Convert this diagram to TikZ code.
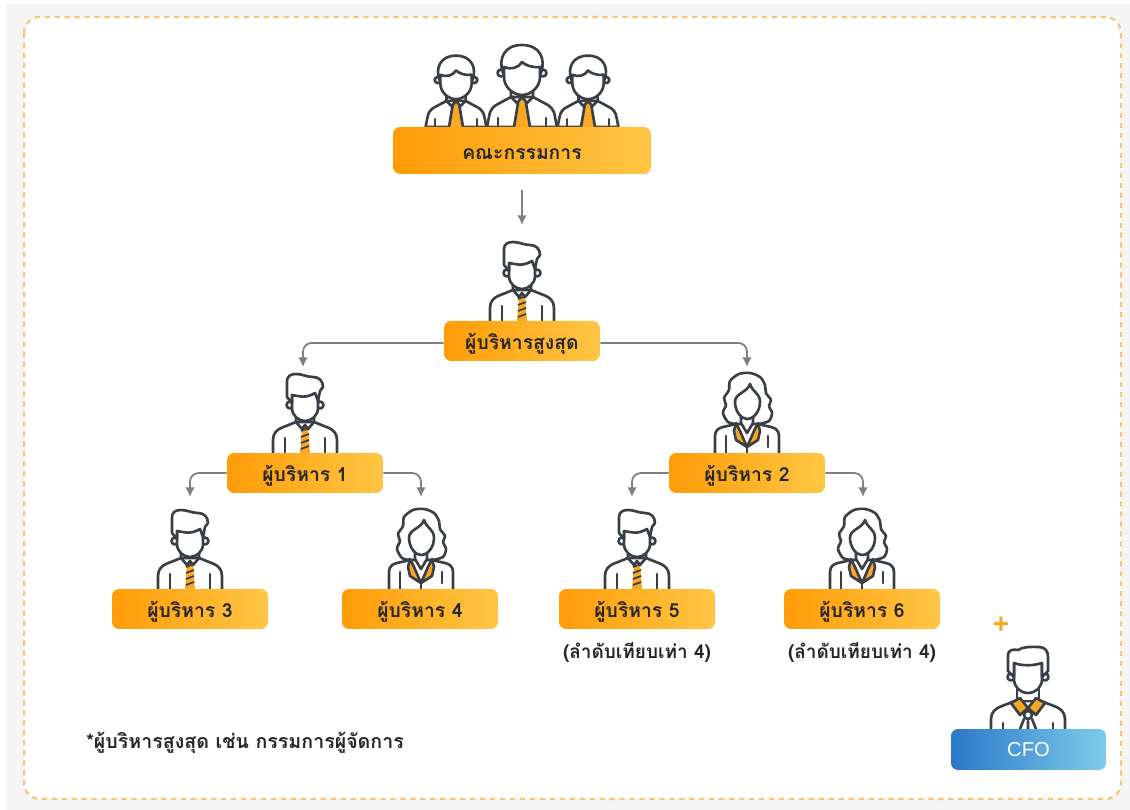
\documentclass[tikz,border=0pt]{standalone}
\usepackage{xcolor}
\usepackage{fontspec}
\usepackage{tikz}
\usetikzlibrary{arrows.meta}
\setmainfont[Script=Thai]{Loma}
\newfontfamily\latinfont{Liberation Sans}
\definecolor{iconcol}{HTML}{3A3F45}
\definecolor{tiecol}{HTML}{F9A825}
\definecolor{framecol}{HTML}{F8C678}
\definecolor{arrowcol}{HTML}{7C8085}
\definecolor{pagecol}{HTML}{F5F5F5}
\definecolor{orangeleft}{HTML}{FF9C08}
\definecolor{orangeright}{HTML}{FFC644}
\definecolor{blueleft}{HTML}{2A78C9}
\definecolor{blueright}{HTML}{7ECCE9}

\begin{document}
\begin{tikzpicture}[x=0.02cm,y=-0.02cm]
			\tikzstyle{orangebox} = [rounded corners=4pt, left color=orangeleft, right color=orangeright, minimum width=3.12cm, minimum height=0.8cm, inner sep=0pt, text height=10pt, text depth=0pt, text=black!85, font=\fontsize{11}{12}\selectfont\bfseries]
			\tikzstyle{bluebox} = [rounded corners=4pt, left color=blueleft, right color=blueright, minimum width=3.1cm, minimum height=0.82cm, inner sep=0pt, text=white, font=\fontsize{11.5}{12}\selectfont\latinfont]
			\tikzstyle{plain} = [font=\fontsize{10.8}{12}\selectfont\bfseries, text=black!85, inner sep=0pt]
			\tikzstyle{iconline} = [draw=iconcol, line width=1.5pt, line cap=round, line join=round, fill=white]
			\tikzstyle{stroke} = [draw=iconcol, line width=1.5pt, line cap=round, line join=round]
			\tikzset{edge/.style = {draw=arrowcol, line width=1pt, rounded corners=5pt, -{Latex[length=5.5pt,width=5.5pt]}}}
			\tikzset{
				manicon/.pic = {
					\draw[iconline] (-32,0) -- (-32,-13) .. controls (-32,-20) and (-28,-23) .. (-24,-25) -- (-9,-31) -- (9,-31) -- (24,-25) .. controls (28,-23) and (32,-20) .. (32,-13) -- (32,0);
					\draw[stroke] (-20,0) -- (-20,-15) (20,0) -- (20,-15);
					\fill[tiecol] (-3,-26) -- (3,-26) -- (5,0) -- (-5,0) -- cycle;
					\foreach \y in {-22,-16,-10,-4}
						\draw[iconcol, line width=1pt] (-4,\y) -- (4,\y-3);
					\draw[stroke] (-9,-38) -- (-9,-31) -- (-3,-24) -- (0,-28) -- (3,-24) -- (9,-31) -- (9,-38);
					\draw[iconline] (-15,-48) circle (3.5) (15,-48) circle (3.5);
					\draw[iconline] (-13,-56) -- (-13,-45) .. controls (-13,-37) and (-6,-32) .. (0,-32) .. controls (6,-32) and (13,-37) .. (13,-45) -- (13,-56);
					\draw[iconline] (-13,-50) -- (-18,-56) -- (-18,-72) .. controls (-18,-77) and (-14,-79) .. (-9,-79) .. controls (-3,-79) and (2,-76) .. (8,-76) .. controls (14,-76) and (18,-72) .. (18,-66) -- (15,-62) -- (13,-52) -- (10,-60) .. controls (0,-54) and (-6,-57) .. (-13,-58) -- cycle;
				},
				womanicon/.pic = {
					\draw[iconline] plot[smooth] coordinates {(-11,-29) (-19,-31) (-24,-40) (-21,-48) (-23,-55) (-18,-63) (-17,-72) (-8,-79) (3,-80) (13,-76) (18,-68) (19,-60) (24,-53) (22,-47) (25,-40) (22,-32) (12,-29)};
					\draw[iconline] (-32,0) -- (-32,-17) .. controls (-32,-23) and (-28,-25) .. (-24,-26) -- (-11,-29) -- (11,-29) -- (24,-26) .. controls (28,-25) and (32,-23) .. (32,-17) -- (32,0);
					\draw[stroke] (-21,0) -- (-21,-17) (21,-6) -- (21,-17);
					\draw[stroke, fill=tiecol] (-11,-30) -- (-7,-22) -- (0,-6) -- (-11,-13) -- (-13,-22) -- cycle;
					\draw[stroke, fill=tiecol] (11,-30) -- (7,-22) -- (0,-6) -- (11,-13) -- (13,-22) -- cycle;
					\draw[stroke] (0,-6) -- (0,0);
					\draw[iconline] (-6,-40) -- (-6,-30) -- (0,-20) -- (6,-30) -- (6,-40);
					\draw[iconline] (3,-69) .. controls (0,-60) and (-12,-60) .. (-12,-51) .. controls (-12,-42) and (-6,-34) .. (0,-34) .. controls (7,-34) and (13,-42) .. (13,-51) .. controls (13,-60) and (6,-60) .. (3,-69) -- cycle;
				},
				boardicon/.pic = {
					\draw[iconline] (-35,0) -- (-33,-10) .. controls (-32,-18) and (-28,-21) .. (-24,-23) -- (-11,-30) -- (11,-30) -- (24,-23) .. controls (28,-21) and (32,-18) .. (33,-10) -- (35,0) -- cycle;
					\draw[stroke] (-24,0) -- (-24,-9) (24,0) -- (24,-9);
					\fill[tiecol] (-3,-29) -- (3,-29) -- (7,0) -- (-7,0) -- cycle;
					\draw[stroke] (-8,0) -- (-4,-24) (8,0) -- (4,-24);
					\draw[stroke] (-11,-36) -- (-11,-30) -- (-5,-24) -- (0,-30) -- (5,-24) -- (11,-30) -- (11,-36);
					\draw[iconline] (-21,-54) circle (3.5) (21,-54) circle (3.5);
					\draw[iconline] (-18,-66) -- (-18,-50) .. controls (-18,-40) and (-9,-32) .. (0,-32) .. controls (9,-32) and (18,-40) .. (18,-50) -- (18,-66);
					\draw[iconline] (-19,-54) .. controls (-24,-68) and (-18,-82) .. (0,-82) .. controls (18,-82) and (24,-68) .. (19,-54) -- (18,-60) .. controls (10,-59) and (3,-62) .. (0,-65) .. controls (-3,-59) and (-12,-57) .. (-18,-60) -- cycle;
				},
				cfoicon/.pic = {
					\draw[iconline] (-37,0) -- (-37,-10) .. controls (-37,-17) and (-32,-21) .. (-26,-23) -- (-13,-28) -- (13,-28) -- (26,-23) .. controls (32,-21) and (37,-17) .. (37,-10) -- (37,0);
					\draw[stroke] (-25,0) -- (-25,-6) (25,0) -- (25,-6);
					\draw[stroke] (-4,-10) -- (-8,0) (4,-10) -- (8,0) (0,-8) -- (0,0);
					\draw[iconline] (-11,-40) -- (-11,-28) -- (11,-28) -- (11,-40);
					\draw[stroke, fill=tiecol] (-17,-26) -- (-8,-31) -- (0,-21) -- (-8,-14) -- cycle;
					\draw[stroke, fill=tiecol] (17,-26) -- (8,-31) -- (0,-21) -- (8,-14) -- cycle;
					\draw[iconline] (0,-14) circle (4);
					\draw[iconline] (-17,-52) circle (3.5) (17,-52) circle (3.5);
					\draw[iconline] (-14,-66) -- (-14,-50) .. controls (-14,-42) and (-8,-36) .. (0,-36) .. controls (8,-36) and (14,-42) .. (14,-50) -- (14,-66);
					\draw[iconline] (-14,-52) -- (-20,-58) -- (-20,-74) .. controls (-20,-79) and (-15,-80) .. (-10,-79) .. controls (-3,-83) and (4,-82) .. (11,-82) .. controls (17,-82) and (20,-78) .. (20,-72) -- (20,-58) -- (14,-52) -- (14,-66) .. controls (5,-63) and (-6,-63) .. (-14,-66) -- cycle;
				}
			}

			\fill[pagecol] (6,4) rectangle (1130,810);
			\draw[framecol, fill=white, line width=1.3pt, dash pattern=on 3pt off 2.67pt, rounded corners=9pt] (24,17) rectangle (1121,799);

			% connector ends
			\coordinate (ceotop) at (522,225);
			\coordinate (onetop) at (303,367);
			\coordinate (twotop) at (747,367);
			\coordinate (threetop) at (190,497);
			\coordinate (fourtop) at (421,497);
			\coordinate (fivetop) at (632,497);
			\coordinate (sixtop) at (863,497);

			% people, behind the boxes
			\pic[scale=.87] at (456,127) {boardicon};
			\pic[scale=.87] at (588,127) {boardicon};
			\pic at (522,127) {boardicon};
			\pic at (522,321) {manicon};
			\pic at (305,453) {manicon};
			\pic at (747,453) {womanicon};
			\pic at (190,589) {manicon};
			\pic at (421,589) {womanicon};
			\pic at (637,589) {manicon};
			\pic at (862,589) {womanicon};
			\pic at (1028,729) {cfoicon};

			\node[orangebox, minimum width=5.16cm, minimum height=0.94cm](board) at (522,150.5) {คณะกรรมการ};
			\node[orangebox](ceo) at (522,341) {ผู้บริหารสูงสุด};
			\node[orangebox](mgr1) at (305,473) {ผู้บริหาร 1};
			\node[orangebox](mgr2) at (747,473) {ผู้บริหาร 2};
			\node[orangebox](mgr3) at (190,609) {ผู้บริหาร 3};
			\node[orangebox](mgr4) at (420,609) {ผู้บริหาร 4};
			\node[orangebox](mgr5) at (637,609) {ผู้บริหาร 5};
			\node[orangebox](mgr6) at (862,609) {ผู้บริหาร 6};
			\node[bluebox](cfo) at (1028.5,749.5) {CFO};

			\node[plain](rank5) at (637,652) {(ลำดับเทียบเท่า 4)};
			\node[plain](rank6) at (862,652) {(ลำดับเทียบเท่า 4)};
			\node[plain, anchor=west, font=\fontsize{11.15}{12}\selectfont\bfseries](note) at (86,743) {*ผู้บริหารสูงสุด เช่น กรรมการผู้จัดการ};
			\node[inner sep=0pt, text=tiecol, font=\fontsize{16}{16}\selectfont\bfseries\latinfont](plus) at (1001,625) {+};

			\draw[edge, shorten <=9pt](board) to (ceotop);
			\draw[edge]([yshift=-1.1pt]ceo.west) -| (onetop);
			\draw[edge]([yshift=-1.1pt]ceo.east) -| (twotop);
			\draw[edge](mgr1.west) -| (threetop);
			\draw[edge](mgr1.east) -| (fourtop);
			\draw[edge](mgr2.west) -| (fivetop);
			\draw[edge](mgr2.east) -| (sixtop);
			\useasboundingbox (0,0) rectangle (1130,810);
\end{tikzpicture}
\end{document}
